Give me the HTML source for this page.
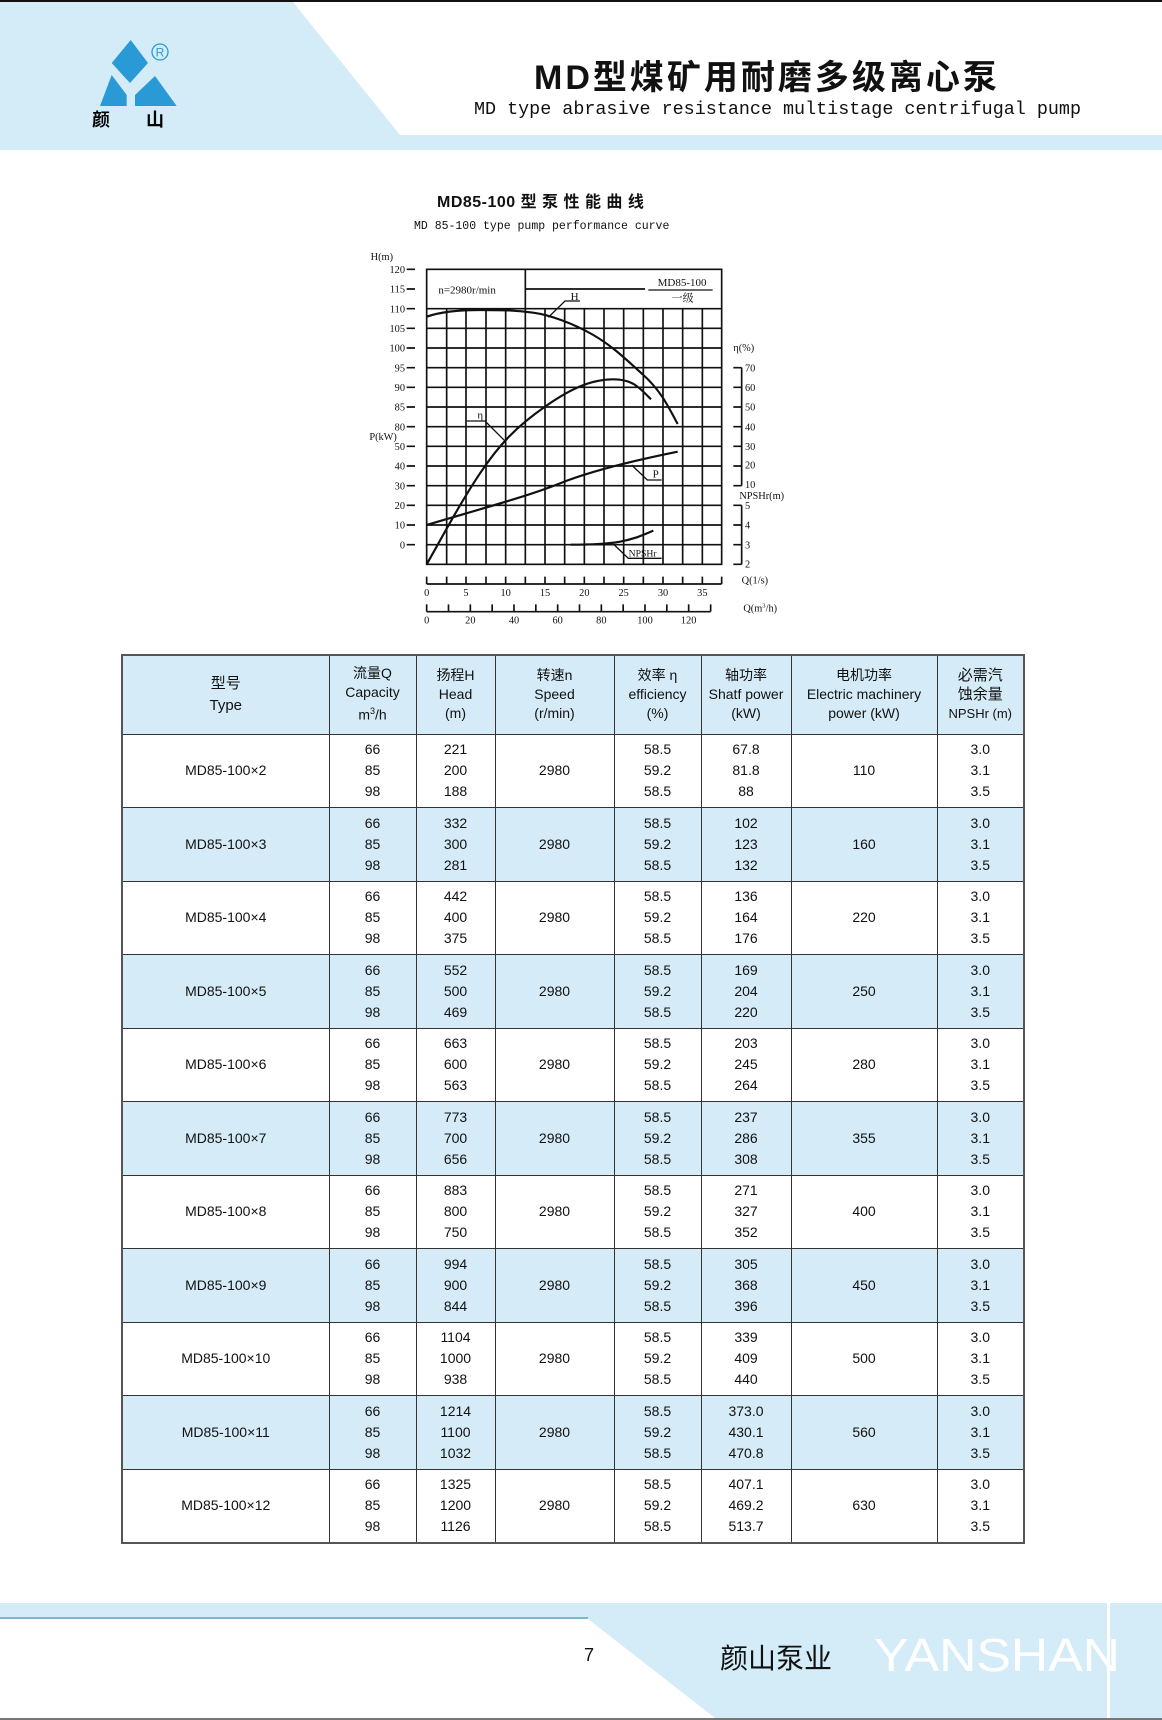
<!DOCTYPE html>
<html><head><meta charset="utf-8"><style>
*{margin:0;padding:0;box-sizing:border-box}
body{width:1162px;height:1720px;position:relative;background:#fff;overflow:hidden;font-family:"Liberation Sans","Noto Sans CJK SC",sans-serif;color:#111}
.abs{position:absolute}
table{position:absolute;left:121px;top:654px;border-collapse:collapse;table-layout:fixed;font-family:"Liberation Sans","Noto Sans CJK SC",sans-serif;font-size:14px}
td{border:1px solid #333;text-align:center;vertical-align:middle;line-height:21px;padding:0}
tr.h td{height:79px;line-height:19px;font-size:14px}
tr.r td{height:73.5px}
tr.b td{background:#d5ecf8}
table{border:2px solid #555}
</style></head><body>
<!-- header -->
<svg class="abs" style="left:0;top:0" width="1162" height="160">
<polygon points="0,2 293,2 400,135 1162,135 1162,150 0,150" fill="#d4ecf8"/>
<rect x="0" y="0" width="1162" height="2" fill="#111"/>
<polygon points="130.7,40 111.7,63 130,83 148,63" fill="#2a9ad6"/>
<polygon points="111.7,75 100,106 126.7,106 126.7,95" fill="#2a9ad6"/>
<polygon points="155,76 135,95 135,106 176.7,106" fill="#2a9ad6"/>
<circle cx="160" cy="52" r="8" fill="none" stroke="#2a9ad6" stroke-width="1.3"/>
<text x="160" y="56.5" font-size="12" text-anchor="middle" fill="#2a9ad6" font-family="Liberation Sans">R</text>
<text x="101" y="126" font-size="18" font-weight="bold" text-anchor="middle" font-family="Noto Sans CJK SC">颜</text>
<text x="155" y="126" font-size="18" font-weight="bold" text-anchor="middle" font-family="Noto Sans CJK SC">山</text>
</svg>
<div class="abs" style="left:534px;top:58px;font-size:34px;font-weight:bold;letter-spacing:3px;white-space:nowrap;line-height:40px;font-family:'Liberation Sans','Noto Sans CJK SC',sans-serif">MD型煤矿用耐磨多级离心泵</div>
<div class="abs" style="left:474px;top:99px;font-size:18.4px;font-family:'Liberation Mono',monospace;white-space:nowrap;line-height:22px">MD type abrasive resistance multistage centrifugal pump</div>
<div class="abs" style="left:437px;top:192px;font-size:16px;font-weight:bold;white-space:nowrap;line-height:22px;letter-spacing:0.5px">MD85-100 型 泵 性 能 曲 线</div>
<div class="abs" style="left:414px;top:219px;font-size:11.5px;font-family:'Liberation Mono',monospace;white-space:nowrap;line-height:16px">MD 85-100 type pump performance curve</div>
<!-- chart -->
<svg class="abs" style="left:360px;top:240px" width="440" height="390" viewBox="0 0 1320 1170" font-family="Liberation Serif,Noto Serif CJK SC,serif" font-size="31" fill="#111">
<g stroke="#111" stroke-width="5" fill="none">
<rect x="200" y="88" width="885" height="885"/>
<path d="M496 88V973M200 206H1085M496 147H855"/>
<path d="M260 206V973M318 206V973M378 206V973M437 206V973M555 206V973M614 206V973M673 206V973M732 206V973M791 206V973M850 206V973M909 206V973M968 206V973M1027 206V973"/>
<path d="M200 265H1085M200 324H1085M200 383H1085M200 442H1085M200 501H1085M200 560H1085M200 619H1085M200 678H1085M200 737H1085M200 796H1085M200 855H1085M200 914H1085"/>
<path d="M140 88H165M140 147H165M140 206H165M140 265H165M140 324H165M140 383H165M140 442H165M140 501H165M140 560H165M140 619H165M140 678H165M140 737H165M140 796H165M140 855H165M140 914H165"/>
<path d="M1145 383V737M1120 383H1145M1120 442H1145M1120 501H1145M1120 560H1145M1120 619H1145M1120 678H1145M1120 737H1145"/>
<path d="M1145 796V973M1120 796H1145M1120 855H1145M1120 914H1145M1120 973H1145"/>
<path d="M200 1032H1085M200 1010V1032M260 1010V1032M318 1010V1032M378 1010V1032M437 1010V1032M496 1010V1032M555 1010V1032M614 1010V1032M673 1010V1032M732 1010V1032M791 1010V1032M850 1010V1032M909 1010V1032M968 1010V1032M1027 1010V1032M1085 1010V1032"/>
<path d="M200 1115H1052M200 1093V1115M265.5 1093V1115M331 1093V1115M396.5 1093V1115M462 1093V1115M527.5 1093V1115M593 1093V1115M658.5 1093V1115M724 1093V1115M789.5 1093V1115M855 1093V1115M920.5 1093V1115M986 1093V1115M1052 1093V1115"/>
<path d="M865 150H1058" stroke-width="4"/>
</g>
<g stroke="#111" stroke-width="6.5" fill="none">
<path d="M200 230C240 216 290 210 360 210S470 211 520 218S640 250 700 285S800 360 850 405S920 490 953 552"/>
<path d="M200 973C250 885 300 790 360 700S470 560 555 500S700 418 760 418S840 445 873 478"/>
<path d="M200 855C350 810 500 770 600 730S830 660 953 635"/>
<path d="M632 914C690 914 740 912 780 905S850 885 880 872"/>
</g>
<g stroke="#111" stroke-width="4" fill="none">
<path d="M565 232L615 183H660M437 605L375 543H320M815 675L862 720H905M760 912L805 955H905"/>
</g>
<g font-size="33">
<text x="632" y="180">H</text><text x="352" y="535">η</text><text x="878" y="712">P</text><text x="806" y="950" font-size="29">NPSHr</text>
<text x="235" y="160">n=2980r/min</text><text x="893" y="138">MD85-100</text><text x="935" y="185" font-family="Noto Serif CJK SC,serif">一级</text>
</g>
<g text-anchor="end">
<text x="135" y="99">120</text><text x="135" y="158">115</text><text x="135" y="217">110</text><text x="135" y="276">105</text><text x="135" y="335">100</text><text x="135" y="394">95</text><text x="135" y="453">90</text><text x="135" y="512">85</text><text x="135" y="571">80</text><text x="135" y="630">50</text><text x="135" y="689">40</text><text x="135" y="748">30</text><text x="135" y="807">20</text><text x="135" y="866">10</text><text x="135" y="925">0</text>
</g>
<text x="32" y="60">H(m)</text><text x="28" y="600">P(kW)</text>
<text x="1120" y="333">η(%)</text>
<g><text x="1155" y="394">70</text><text x="1155" y="453">60</text><text x="1155" y="512">50</text><text x="1155" y="571">40</text><text x="1155" y="630">30</text><text x="1155" y="685">20</text><text x="1155" y="744">10</text>
<text x="1138" y="777">NPSHr(m)</text>
<text x="1155" y="807">5</text><text x="1155" y="866">4</text><text x="1155" y="925">3</text><text x="1155" y="982">2</text></g>
<g text-anchor="middle"><text x="200" y="1068">0</text><text x="318" y="1068">5</text><text x="437" y="1068">10</text><text x="555" y="1068">15</text><text x="673" y="1068">20</text><text x="791" y="1068">25</text><text x="909" y="1068">30</text><text x="1027" y="1068">35</text>
<text x="200" y="1150">0</text><text x="331" y="1150">20</text><text x="462" y="1150">40</text><text x="593" y="1150">60</text><text x="724" y="1150">80</text><text x="855" y="1150">100</text><text x="986" y="1150">120</text></g>
<text x="1145" y="1030">Q(1/s)</text><text x="1150" y="1115">Q(m<tspan font-size="20" dy="-12">3</tspan><tspan dy="12">/h)</tspan></text>
</svg>
<!-- table -->
<table>
<colgroup><col style="width:207px"><col style="width:87px"><col style="width:79px"><col style="width:119px"><col style="width:87px"><col style="width:90px"><col style="width:146px"><col style="width:87px"></colgroup>
<tr class="h b"><td style="font-size:15px;line-height:22px">型号<br>Type</td><td>流量Q<br>Capacity<br>m<sup style="font-size:9px">3</sup>/h</td><td>扬程H<br>Head<br>(m)</td><td>转速n<br>Speed<br>(r/min)</td><td>效率 η<br>efficiency<br>(%)</td><td>轴功率<br>Shatf power<br>(kW)</td><td>电机功率<br>Electric machinery<br>power (kW)</td><td style="font-size:15px">必需汽<br>蚀余量<br><span style="font-size:13px">NPSHr (m)</span></td></tr>
<tr class="r"><td>MD85-100×2</td><td>66<br>85<br>98</td><td>221<br>200<br>188</td><td>2980</td><td>58.5<br>59.2<br>58.5</td><td>67.8<br>81.8<br>88</td><td>110</td><td>3.0<br>3.1<br>3.5</td></tr>
<tr class="r b"><td>MD85-100×3</td><td>66<br>85<br>98</td><td>332<br>300<br>281</td><td>2980</td><td>58.5<br>59.2<br>58.5</td><td>102<br>123<br>132</td><td>160</td><td>3.0<br>3.1<br>3.5</td></tr>
<tr class="r"><td>MD85-100×4</td><td>66<br>85<br>98</td><td>442<br>400<br>375</td><td>2980</td><td>58.5<br>59.2<br>58.5</td><td>136<br>164<br>176</td><td>220</td><td>3.0<br>3.1<br>3.5</td></tr>
<tr class="r b"><td>MD85-100×5</td><td>66<br>85<br>98</td><td>552<br>500<br>469</td><td>2980</td><td>58.5<br>59.2<br>58.5</td><td>169<br>204<br>220</td><td>250</td><td>3.0<br>3.1<br>3.5</td></tr>
<tr class="r"><td>MD85-100×6</td><td>66<br>85<br>98</td><td>663<br>600<br>563</td><td>2980</td><td>58.5<br>59.2<br>58.5</td><td>203<br>245<br>264</td><td>280</td><td>3.0<br>3.1<br>3.5</td></tr>
<tr class="r b"><td>MD85-100×7</td><td>66<br>85<br>98</td><td>773<br>700<br>656</td><td>2980</td><td>58.5<br>59.2<br>58.5</td><td>237<br>286<br>308</td><td>355</td><td>3.0<br>3.1<br>3.5</td></tr>
<tr class="r"><td>MD85-100×8</td><td>66<br>85<br>98</td><td>883<br>800<br>750</td><td>2980</td><td>58.5<br>59.2<br>58.5</td><td>271<br>327<br>352</td><td>400</td><td>3.0<br>3.1<br>3.5</td></tr>
<tr class="r b"><td>MD85-100×9</td><td>66<br>85<br>98</td><td>994<br>900<br>844</td><td>2980</td><td>58.5<br>59.2<br>58.5</td><td>305<br>368<br>396</td><td>450</td><td>3.0<br>3.1<br>3.5</td></tr>
<tr class="r"><td>MD85-100×10</td><td>66<br>85<br>98</td><td>1104<br>1000<br>938</td><td>2980</td><td>58.5<br>59.2<br>58.5</td><td>339<br>409<br>440</td><td>500</td><td>3.0<br>3.1<br>3.5</td></tr>
<tr class="r b"><td>MD85-100×11</td><td>66<br>85<br>98</td><td>1214<br>1100<br>1032</td><td>2980</td><td>58.5<br>59.2<br>58.5</td><td>373.0<br>430.1<br>470.8</td><td>560</td><td>3.0<br>3.1<br>3.5</td></tr>
<tr class="r"><td>MD85-100×12</td><td>66<br>85<br>98</td><td>1325<br>1200<br>1126</td><td>2980</td><td>58.5<br>59.2<br>58.5</td><td>407.1<br>469.2<br>513.7</td><td>630</td><td>3.0<br>3.1<br>3.5</td></tr>
</table>
<!-- footer -->
<svg class="abs" style="left:0;top:1595px" width="1162" height="125">
<rect x="0" y="8" width="1162" height="117" fill="#d4ecf8"/>
<polygon points="0,24 588,24 715,123 0,123" fill="#fff"/>
<rect x="0" y="22" width="588" height="2" fill="#7ab8d0"/>
<rect x="1107" y="0" width="3" height="125" fill="#fff"/>
<rect x="0" y="123" width="1162" height="2" fill="#777"/>
<text x="584" y="66" font-size="18" font-family="Liberation Sans" fill="#111">7</text>
<text x="720" y="73" font-size="28" font-family="Noto Sans CJK SC" fill="#111">颜山泵业</text>
<text x="874" y="76" font-size="46" font-family="Liberation Sans" fill="#fff" textLength="246" lengthAdjust="spacingAndGlyphs">YANSHAN</text>
</svg>
</body></html>
